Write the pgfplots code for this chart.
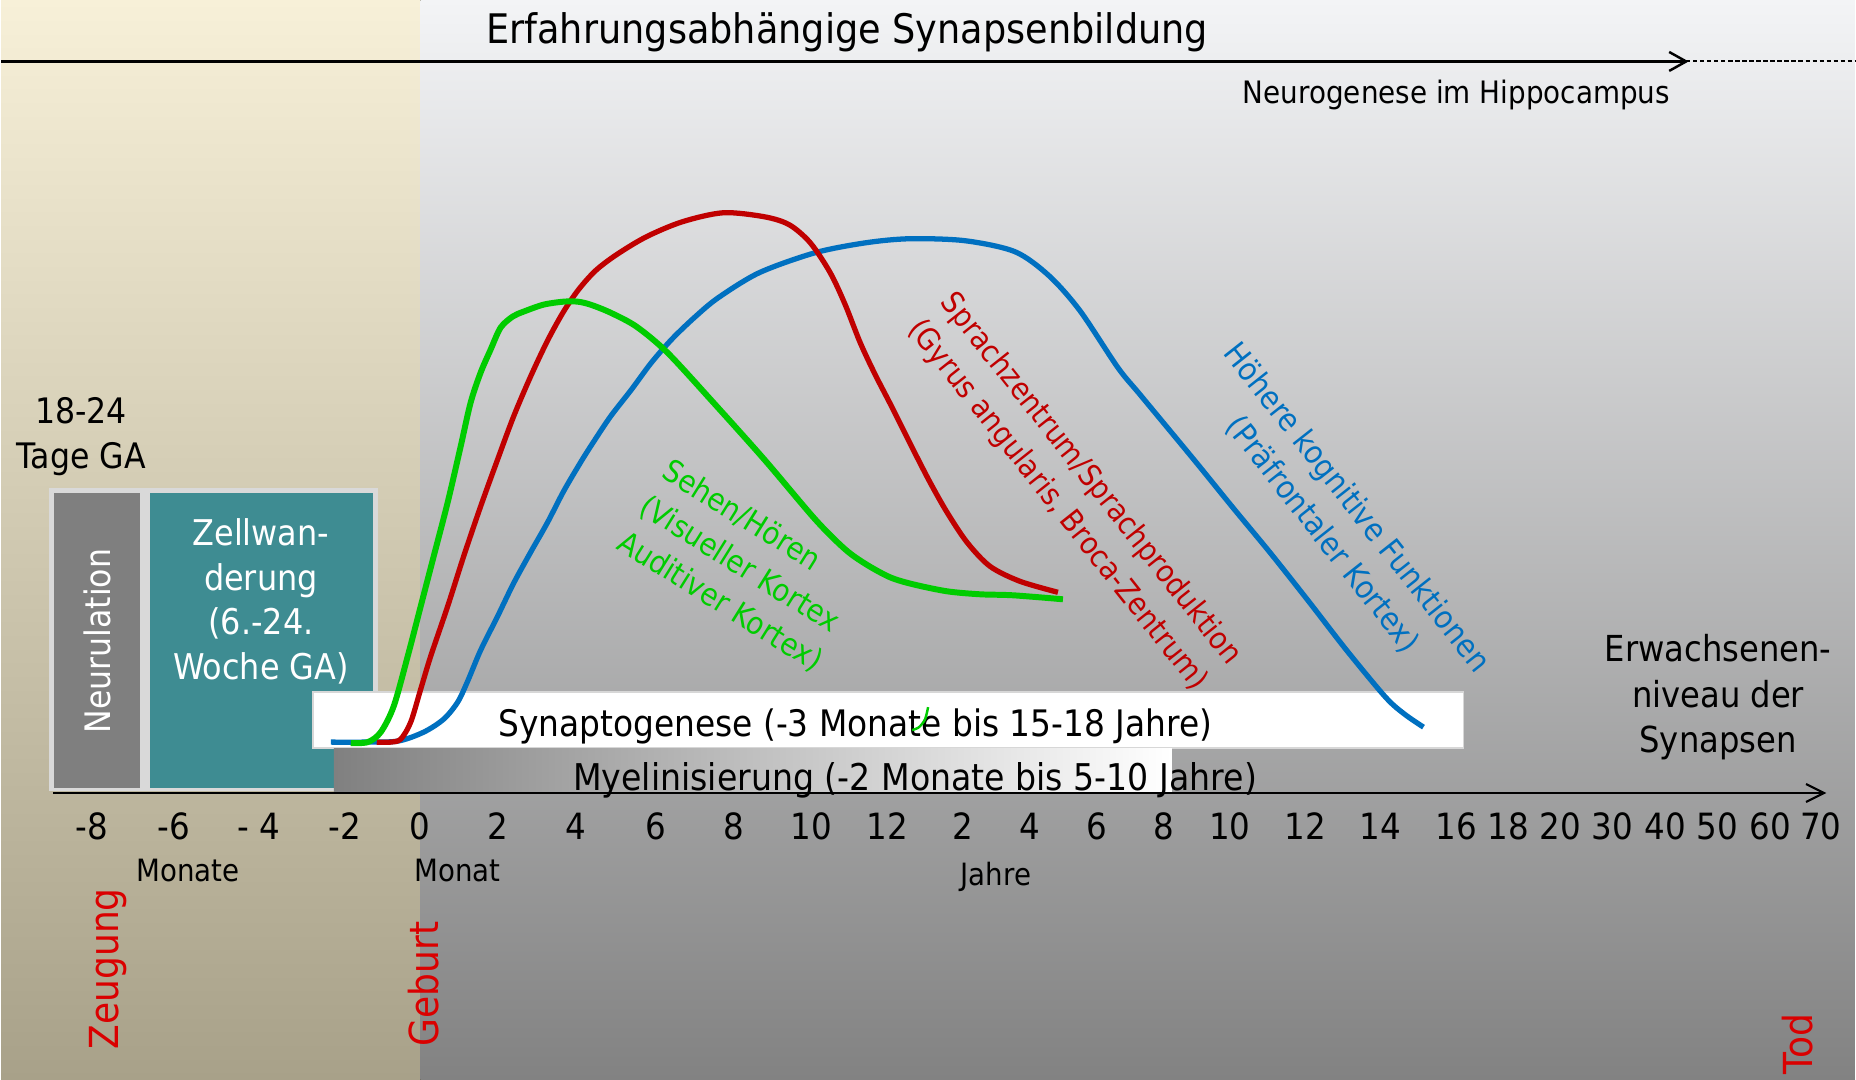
\documentclass[border=0pt]{standalone}
\usepackage{fontspec}
\setmainfont{DejaVu Sans}[FakeStretch=0.9]
\usepackage{pgfplots}
\pgfplotsset{compat=1.18}
\definecolor{cgreen}{RGB}{0,204,0}
\definecolor{cred}{RGB}{192,0,0}
\definecolor{cblue}{RGB}{0,112,192}
\definecolor{tred}{RGB}{218,0,0}
\definecolor{cteal}{RGB}{62,140,146}
\definecolor{cneu}{RGB}{127,127,127}
\definecolor{cframe}{RGB}{217,217,217}
\definecolor{lefttop}{RGB}{247,240,216}
\definecolor{leftbot}{RGB}{168,161,137}
\definecolor{righttop}{RGB}{243,244,246}
\definecolor{rightbot}{RGB}{130,130,130}
\definecolor{bandleft}{RGB}{128,128,128}
\definecolor{boxedge}{RGB}{215,215,215}
\newcommand{\fs}[2]{\fontsize{#1pt}{#2pt}\selectfont}
\tikzset{tick/.style={font=\fs{10.3}{12}, inner sep=0, anchor=base}}
\begin{document}
\begin{tikzpicture}
\begin{axis}[scale only axis, width=18.56cm, height=10.81cm,
  xmin=0, xmax=1856, ymin=0, ymax=1081, y dir=reverse,
  hide axis, clip=false]
% backgrounds
\fill[top color=lefttop, bottom color=leftbot] (axis cs:0,0) rectangle (axis cs:420,1081);
\fill[top color=righttop, bottom color=rightbot] (axis cs:420,0) rectangle (axis cs:1856,1081);
% top arrow line
\draw[line width=0.7pt] (axis cs:0,61.5) -- (axis cs:1687,61.5);
\draw[line width=0.7pt] (axis cs:1670,52) -- (axis cs:1687,61.5) -- (axis cs:1670,71);
\draw[line width=0.6pt, dash pattern=on 1.2pt off 0.8pt] (axis cs:1687,61.5) -- (axis cs:1856,61.5);
\node[font=\fs{11.6}{14}, inner sep=0, anchor=base] at (axis cs:847,44) {Erfahrungsabhängige Synapsenbildung};
\node[font=\fs{8.8}{10.5}, inner sep=0, anchor=base] at (axis cs:1457,104) {Neurogenese im Hippocampus};
% left boxes
\node[font=\fs{10}{12.8}, inner sep=0, align=center] at (axis cs:80,437) {18-24\\Tage GA};
\fill[cframe] (axis cs:48,489) rectangle (axis cs:377,792);
\fill[cneu] (axis cs:53,494) rectangle (axis cs:139,789);
\fill[cteal] (axis cs:149,494) rectangle (axis cs:372,789);
\node[rotate=90, text=white, font=\fs{10}{12}, inner sep=0] at (axis cs:96,642) {Neurulation};
\node[text=white, font=\fs{10.1}{12.7}, inner sep=0, align=center] at (axis cs:260,602) {Zellwan-\\derung\\(6.-24.\\Woche GA)};
% synaptogenese box
\filldraw[fill=white, draw=boxedge, line width=0.5pt] (axis cs:312,693) rectangle (axis cs:1464,749);
\node[font=\fs{10.4}{12}, inner sep=0, anchor=base] at (axis cs:855,737) {Synaptogenese (-3 Monate bis 15-18 Jahre)};
% myelinisierung band
\fill[left color=bandleft, right color=white] (axis cs:333,749) rectangle (axis cs:1172,793);
\node[font=\fs{10.5}{12}, inner sep=0, anchor=base] at (axis cs:915,791) {Myelinisierung (-2 Monate bis 5-10 Jahre)};
% bottom axis line
\draw[line width=0.6pt] (axis cs:52,794) -- (axis cs:1825,794);
\draw[line width=0.6pt] (axis cs:1807,785) -- (axis cs:1825,794) -- (axis cs:1807,803);
% tick labels
\node[tick] at (axis cs:91,841) {-8};
\node[tick] at (axis cs:173,841) {-6};
\node[tick] at (axis cs:258,841) {- 4};
\node[tick] at (axis cs:344,841) {-2};
\node[tick] at (axis cs:419,841) {0};
\node[tick] at (axis cs:497,841) {2};
\node[tick] at (axis cs:575,841) {4};
\node[tick] at (axis cs:655,841) {6};
\node[tick] at (axis cs:734,841) {8};
\node[tick] at (axis cs:811,841) {10};
\node[tick] at (axis cs:887,841) {12};
\node[tick] at (axis cs:963,841) {2};
\node[tick] at (axis cs:1030,841) {4};
\node[tick] at (axis cs:1097,841) {6};
\node[tick] at (axis cs:1164,841) {8};
\node[tick] at (axis cs:1230,841) {10};
\node[tick] at (axis cs:1306,841) {12};
\node[tick] at (axis cs:1381,841) {14};
\node[tick] at (axis cs:1457,841) {16};
\node[tick] at (axis cs:1509,841) {18};
\node[tick] at (axis cs:1561,841) {20};
\node[tick] at (axis cs:1613,841) {30};
\node[tick] at (axis cs:1666,841) {40};
\node[tick] at (axis cs:1718,841) {50};
\node[tick] at (axis cs:1771,841) {60};
\node[tick] at (axis cs:1822,841) {70};
\node[font=\fs{8.75}{10}, inner sep=0, anchor=base] at (axis cs:187,883) {Monate};
\node[font=\fs{8.75}{10}, inner sep=0, anchor=base west] at (axis cs:413,883) {Monat};
\node[font=\fs{8.75}{10}, inner sep=0, anchor=base] at (axis cs:996,887) {Jahre};
\node[font=\fs{10.2}{12.9}, inner sep=0, align=center] at (axis cs:1719,698) {Erwachsenen-\\niveau der\\Synapsen};
% red event labels
\node[rotate=90, text=tred, font=\fs{11.4}{13}, inner sep=0, anchor=base] at (axis cs:117,970) {Zeugung};
\node[rotate=90, text=tred, font=\fs{11.4}{13}, inner sep=0, anchor=base] at (axis cs:438,985) {Geburt};
\node[rotate=90, text=tred, font=\fs{11.4}{13}, inner sep=0, anchor=base] at (axis cs:1813,1045) {Tod};
% curves
\addplot[cblue, line width=1.5pt, smooth, tension=0.5] coordinates {
(330,743)(363,743)(397,742)(423,733)(443,720)(457,703)(467,682)(480,651)(497,617)(513,584)(530,553)(547,523)(563,492)(580,463)(592,444)(610,417)(631,390)(651,363)(672,339)(695,317)(718,298)(759,273)(815,253)(866,243)(910,239)(965,241)(1015,252)(1049,276)(1080,311)(1118,368)(1141,396)(1194,460)(1233,508)(1271,554)(1309,602)(1347,651)(1386,698)(1405,715)(1424,728)};
\addplot[cred, line width=1.5pt, smooth, tension=0.5] coordinates {
(376,743)(390,743)(400,740)(410,723)(420,690)(430,657)(447,607)(463,557)(480,507)(497,460)(513,417)(530,377)(547,341)(563,312)(578,290)(595,271)(616,255)(646,237)(682,222)(723,213)(764,217)(789,225)(810,243)(830,273)(845,305)(860,343)(875,375)(892,408)(913,450)(930,483)(947,513)(967,543)(990,567)(1020,582)(1058,593)};
\addplot[cgreen, line width=1.7pt, smooth, tension=0.5] coordinates {
(350,744)(367,743)(380,733)(393,707)(407,657)(420,607)(433,557)(447,503)(460,447)(470,403)(480,373)(490,350)(500,328)(512,317)(523,312)(543,305)(563,302)(577,302)(590,305)(610,313)(636,327)(667,353)(713,403)(764,460)(815,520)(845,550)(866,565)(890,578)(913,585)(947,592)(980,595)(1013,596)(1063,600)};
\addplot[cgreen, line width=0.7pt, smooth] coordinates {(912,731)(919,728)(925,720)(928,708)};
% curve labels
\node[rotate=-32, align=left, text=cgreen, font=\fs{8.8}{12}, inner sep=0] at (axis cs:742,567) {Sehen/Hören\\(Visueller Kortex\\Auditiver Kortex)};
\node[rotate=-51.6, align=center, text=cred, font=\fs{8.7}{12}, inner sep=0] at (axis cs:1074,493) {Sprachzentrum/Sprachproduktion\\(Gyrus angularis, Broca-Zentrum)};
\node[rotate=-51.7, align=center, text=cblue, font=\fs{9}{12.3}, inner sep=0] at (axis cs:1340,522) {Höhere kognitive Funktionen\\(Präfrontaler Kortex)};
\end{axis}
\end{tikzpicture}
\end{document}
